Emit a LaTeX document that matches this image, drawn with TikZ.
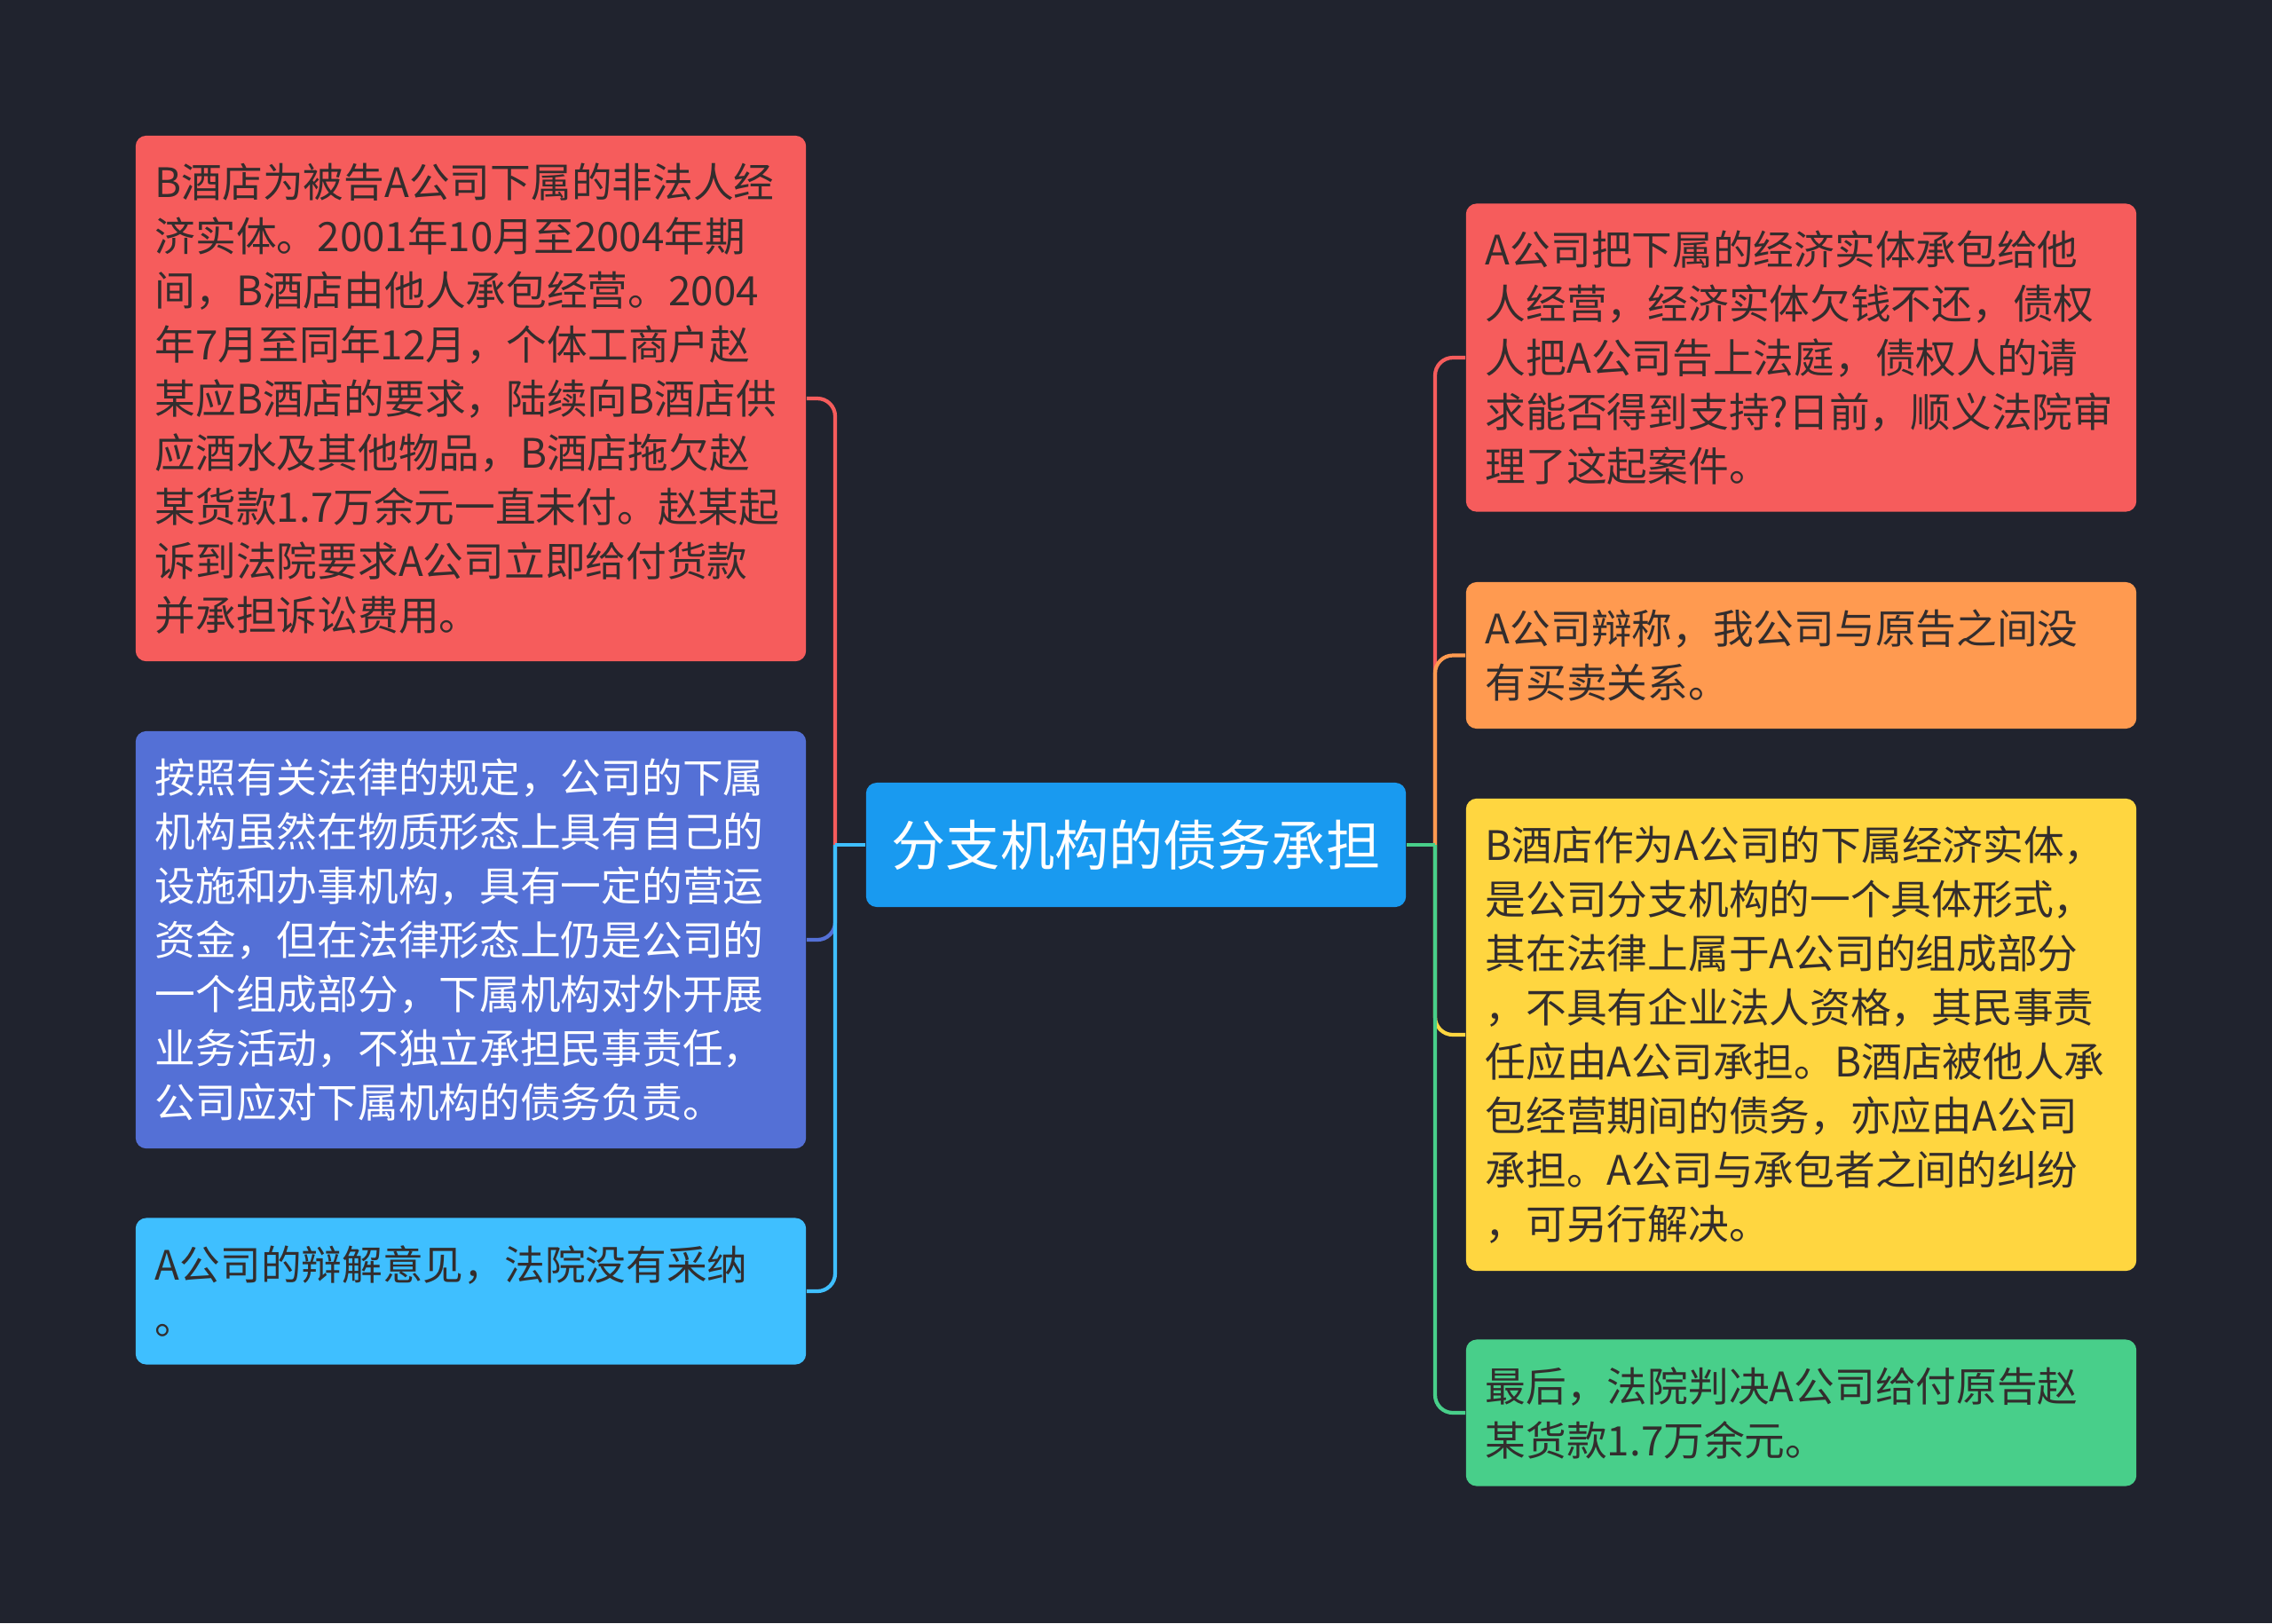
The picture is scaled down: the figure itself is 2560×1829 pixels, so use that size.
\documentclass[tikz,border=0pt]{standalone}
\usepackage{fontspec}
\setmainfont{Noto Sans CJK SC}
\newfontfamily\cjk{Noto Sans CJK SC}
\definecolor{bg}{RGB}{32,35,46}
\definecolor{cred}{RGB}{246,92,92}
\definecolor{corange}{RGB}{255,154,80}
\definecolor{cyellow}{RGB}{255,214,64}
\definecolor{cgreen}{RGB}{72,207,138}
\definecolor{cblue}{RGB}{84,112,214}
\definecolor{clight}{RGB}{63,191,255}
\definecolor{ccenter}{RGB}{25,154,240}
\definecolor{tdark}{RGB}{51,45,45}
\begin{document}
\begin{tikzpicture}[x=0.01cm,y=-0.01cm,
  box/.style={rounded corners=0.12cm, inner xsep=0.22cm, inner ysep=0pt,
    text width=7.11cm, minimum width=7.55cm, align=left, text=tdark,
    font=\cjk\fontsize{13.0pt}{17.36pt}\selectfont},
  conn/.style={line width=1.2pt, rounded corners=0.2cm}]
\useasboundingbox (0,0) rectangle (2560,1829);
\fill[bg] (0,0) rectangle (2560,1829);

\node[rounded corners=0.12cm, fill=ccenter, text=white, minimum width=6.08cm,
  minimum height=1.40cm, inner sep=0pt,
  font=\cjk\fontsize{17.4pt}{20pt}\selectfont] (c) at (1280,952) {分支机构的债务承担};

\node[box, fill=cred, minimum height=5.92cm] (l1) at (530.5,449) {B酒店为被告A公司下属的非法人经\\
济实体。2001年10月至2004年期\\
间，B酒店由他人承包经营。2004\\
年7月至同年12月，个体工商户赵\\
某应B酒店的要求，陆续向B酒店供\\
应酒水及其他物品，B酒店拖欠赵\\
某货款1.7万余元一直未付。赵某起\\
诉到法院要求A公司立即给付货款\\
并承担诉讼费用。};

\node[box, fill=cblue, text=white, minimum height=4.70cm] (l2) at (530.5,1059) {按照有关法律的规定，公司的下属\\
机构虽然在物质形态上具有自己的\\
设施和办事机构，具有一定的营运\\
资金，但在法律形态上仍是公司的\\
一个组成部分，下属机构对外开展\\
业务活动，不独立承担民事责任，\\
公司应对下属机构的债务负责。};

\node[box, fill=clight, minimum height=1.65cm] (l3) at (530.5,1455) {A公司的辩解意见，法院没有采纳\\
。};

\node[box, fill=cred, minimum height=3.47cm] (r1) at (2029.5,403) {A公司把下属的经济实体承包给他\\
人经营，经济实体欠钱不还，债权\\
人把A公司告上法庭，债权人的请\\
求能否得到支持?日前，顺义法院审\\
理了这起案件。};

\node[box, fill=corange, minimum height=1.65cm] (r2) at (2029.5,738.5) {A公司辩称，我公司与原告之间没\\
有买卖关系。};

\node[box, fill=cyellow, minimum height=5.32cm] (r3) at (2029.5,1166) {B酒店作为A公司的下属经济实体，\\
是公司分支机构的一个具体形式，\\
其在法律上属于A公司的组成部分\\
，不具有企业法人资格，其民事责\\
任应由A公司承担。B酒店被他人承\\
包经营期间的债务，亦应由A公司\\
承担。A公司与承包者之间的纠纷\\
，可另行解决。};

\node[box, fill=cgreen, minimum height=1.65cm] (r4) at (2029.5,1592) {最后，法院判决A公司给付原告赵\\
某货款1.7万余元。};

\coordinate (jl) at (941,952);
\coordinate (jr) at (1617,952);

\draw[conn, cred] (jl) |- (l1.east);
\draw[conn, cblue] (jl) |- (l2.east);
\draw[conn, clight] (jl) |- (l3.east);
\draw[line width=1.2pt, clight] (c.west) -- (jl);

\draw[conn, cred] (jr) |- (r1.west);
\draw[conn, corange] (jr) |- (r2.west);
\draw[conn, cyellow] (jr) |- (r3.west);
\draw[conn, cgreen] (jr) |- (r4.west);
\draw[line width=1.2pt, cgreen] (c.east) -- (jr);
\end{tikzpicture}
\end{document}
